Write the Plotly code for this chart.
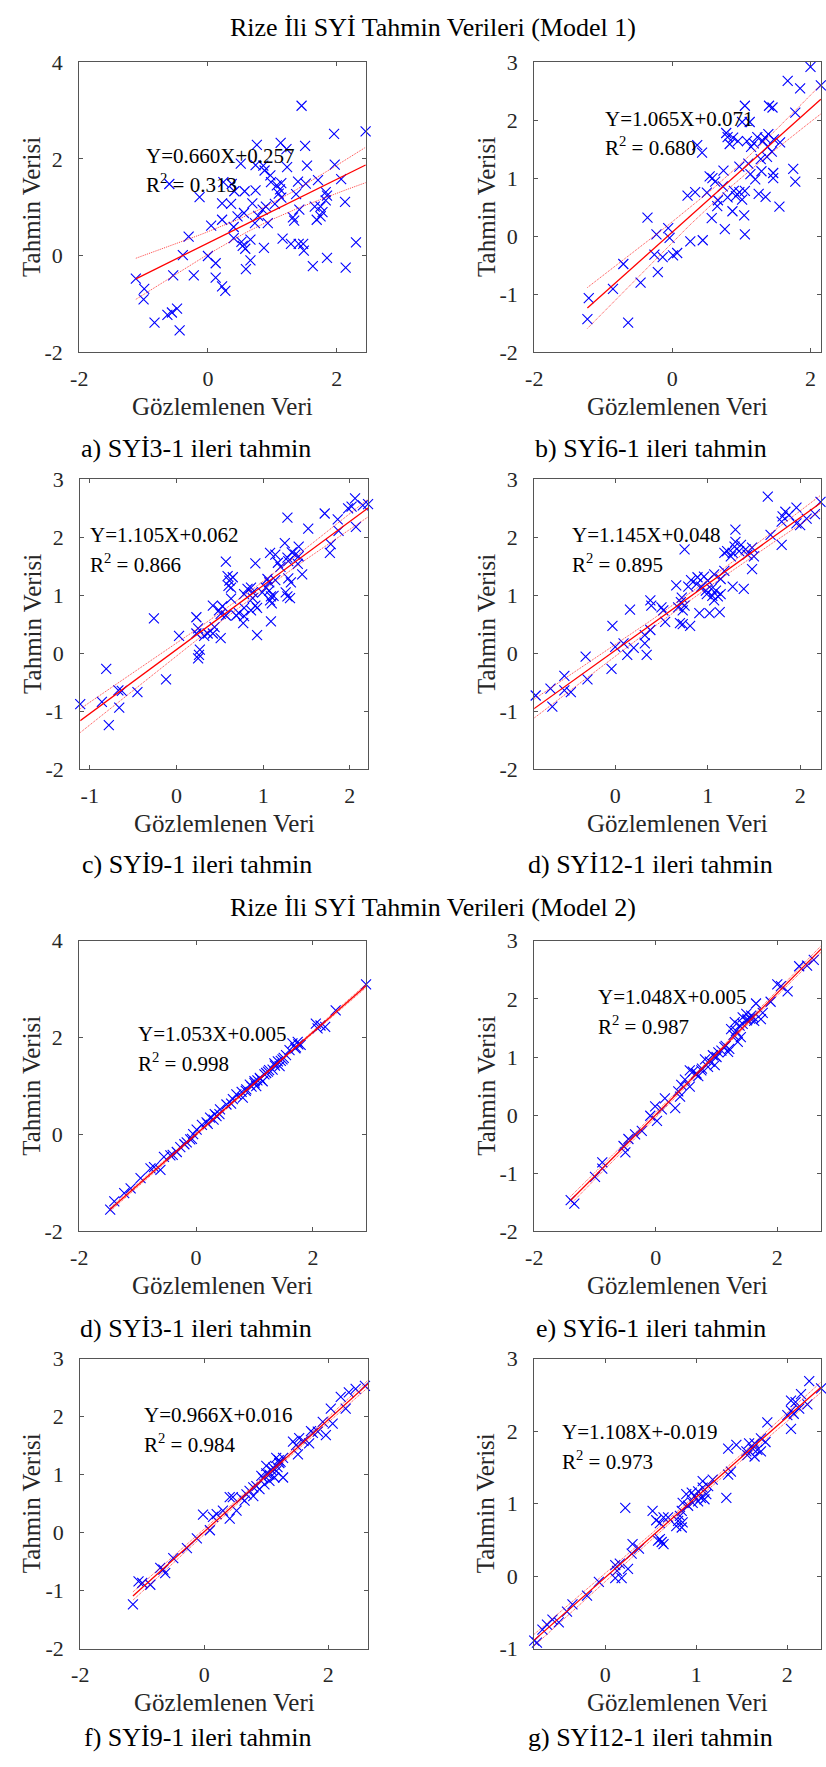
import numpy as np
import plotly.graph_objects as go

# ------------------------------------------------------------------------
# values read off the reference (observed = Gözlemlenen, predicted = Tahmin)

# Model 1 - a) SYİ3-1
a_obs = [1.455, 2.45, 1.96, 0.76, 1.13, 1.51, 1.22, 1.97, 0.51, 0.74, 0.86, 1.23, 1.54, 0.88, 0.97,
         2.07, 1.71, 0.98, -0.60, 0.24, 0.37, 1.14, 1.40, 1.52, 1.07, 0.41, 0.57, 0.74, 1.12, 1.10,
         -0.13, 1.37, 1.83, 1.85, 1.14, 0.22, 0.36, 0.69, 2.13, 1.83, 1.04, 0.90, 1.75, 1.66, 0.85,
         1.42, 1.78, 0.56, 0.46, 0.78, 0.22, 1.32, 1.69, 1.34, 1.75, 0.73, 0.93, 0.05, 0.40, -0.30,
         0.40, 0.66, 0.52, 1.16, 2.30, 1.29, 1.41, 1.48, 0.54, 0.87, 0.58, 1.49, -0.39, 0.00, 1.85,
         0.66, 0.12, 1.63, 0.59, 2.14, -0.54, -0.22, 0.12, -1.12, 0.22, 0.27, -0.99, -1.00, -0.48,
         -0.56, -0.63, -0.83, -0.44]
a_pred = [3.10, 2.57, 2.52, 2.29, 2.33, 2.27, 2.20, 1.88, 1.90, 1.87, 1.86, 1.83, 1.86, 1.76, 1.66,
          1.58, 1.56, 1.52, 1.48, 1.52, 1.48, 1.50, 1.53, 1.49, 1.45, 1.33, 1.33, 1.35, 1.37, 1.28,
          1.21, 1.27, 1.31, 1.24, 1.20, 1.08, 1.07, 1.08, 1.11, 1.14, 1.07, 1.01, 1.01, 1.01, 0.95,
          0.95, 0.90, 0.88, 0.81, 0.82, 0.74, 0.79, 0.74, 0.72, 0.81, 0.67, 0.67, 0.62, 0.59, 0.39,
          0.36, 0.33, 0.28, 0.35, 0.27, 0.24, 0.24, 0.24, 0.20, 0.16, 0.14, 0.10, 0.01, -0.01, -0.05,
          -0.10, -0.16, -0.22, -0.28, -0.25, -0.41, -0.41, -0.46, -0.48, -0.64, -0.73, -0.69, -0.91, -1.10,
          -1.18, -1.23, -1.39, -1.55]

# Model 1 - b) SYİ6-1
b_obs = [2.00, 2.15, 1.67, 1.85, 1.05, 1.40, 1.45, 1.78, 1.01, 1.12, 0.78, 0.80, 0.88, 0.95, 0.83,
         1.08, 1.18, 1.23, 1.34, 1.39, 1.31, 1.47, 1.56, 0.36, 0.43, 1.14, 1.38, 1.44, 1.37, 1.28,
         1.10, 0.97, 1.75, 0.74, 1.29, 1.46, 1.13, 1.20, 0.54, 0.58, 1.46, 1.78, 0.62, 0.73, 0.50,
         0.33, 0.22, 0.89, 0.97, 1.05, 0.92, 1.01, 0.80, 1.25, 1.35, 0.66, 0.65, 1.55, 0.87, 1.04,
         0.57, -0.36, 0.76, -0.23, -0.06, -0.04, 1.05, 0.26, 0.44, -0.26, -0.14, 0.01, 0.07, -0.71,
         -0.21, -0.46, -0.86, -1.21, -1.23, -0.64]
b_pred = [2.92, 2.60, 2.68, 2.55, 2.25, 2.25, 2.22, 2.13, 1.97, 1.97, 1.78, 1.71, 1.70, 1.64, 1.59,
          1.64, 1.60, 1.71, 1.70, 1.76, 1.64, 1.67, 1.62, 1.57, 1.44, 1.54, 1.54, 1.46, 1.37, 1.33,
          1.25, 1.20, 1.16, 1.13, 1.12, 1.09, 1.07, 0.98, 1.03, 1.00, 1.00, 0.94, 0.94, 0.86, 0.75,
          0.76, 0.70, 0.78, 0.76, 0.78, 0.69, 0.63, 0.67, 0.73, 0.68, 0.62, 0.52, 0.51, 0.43, 0.36,
          0.31, 0.32, 0.12, 0.03, 0.14, -0.03, 0.03, -0.09, -0.07, -0.32, -0.36, -0.33, -0.29, -0.48,
          -0.62, -0.80, -0.91, -1.07, -1.43, -1.49]

# Model 1 - c) SYİ9-1
c_obs = [2.06, 1.98, 2.02, 2.15, 2.21, 1.71, 1.28, 1.86, 1.52, 2.07, 1.87, 1.25, 1.41, 1.78, 1.77,
         1.08, 1.14, 1.33, 1.37, 1.28, 1.41, 1.17, 1.29, 0.57, 0.91, 1.40, 1.20, 1.45, 0.59, 0.65,
         0.61, 1.05, 1.07, 1.14, 1.29, 1.32, 0.60, 0.82, 0.86, 0.63, 1.03, 0.88, 0.99, 1.07, 1.26,
         0.78, 1.12, 1.09, 1.28, 1.31, 0.88, 0.63, 1.08, 1.10, 0.91, 0.42, 0.53, 0.78, 0.93, 0.86,
         0.49, 0.72, 0.51, 0.57, 0.69, 0.78, 0.23, -0.26, 0.77, 1.09, 0.44, 0.25, 0.23, 0.36, 0.42,
         0.32, 0.93, 0.03, 0.51, 0.27, 0.26, 0.25, -0.12, -0.81, -0.67, -0.63, -0.45, -0.66, -1.11,
         -0.86, -0.78]
c_pred = [2.67, 2.50, 2.53, 2.55, 2.57, 2.41, 2.34, 2.31, 2.15, 2.18, 2.11, 1.90, 1.84, 1.88, 1.73,
          1.73, 1.70, 1.74, 1.70, 1.65, 1.67, 1.56, 1.59, 1.58, 1.55, 1.54, 1.49, 1.36, 1.33, 1.31,
          1.25, 1.28, 1.22, 1.26, 1.29, 1.22, 1.16, 1.11, 1.13, 1.13, 1.13, 1.05, 1.05, 1.08, 1.05,
          1.02, 0.99, 0.98, 0.98, 0.95, 0.95, 0.94, 0.91, 0.86, 0.82, 0.82, 0.81, 0.78, 0.78, 0.74,
          0.74, 0.69, 0.68, 0.65, 0.65, 0.64, 0.62, 0.60, 0.52, 0.55, 0.45, 0.43, 0.34, 0.34, 0.34,
          0.30, 0.31, 0.30, 0.26, 0.06, -0.03, -0.09, -0.45, -0.27, -0.64, -0.65, -0.67, -0.94, -0.88,
          -0.84, -1.24]

# Model 1 - d) SYİ12-1
d_obs = [1.65, 2.22, 1.84, 1.96, 1.81, 1.88, 2.16, 2.07, 1.96, 2.00, 1.80, 1.30, 1.68, 1.80, 0.75,
         1.30, 1.29, 1.36, 1.21, 1.27, 1.34, 1.41, 1.48, 1.43, 1.50, 1.25, 1.18, 1.48, 1.18, 1.07,
         1.14, 0.66, 1.27, 1.39, 0.82, 0.89, 0.96, 1.00, 0.88, 0.93, 0.79, 0.98, 1.04, 1.09, 0.99,
         1.05, 1.11, 1.07, 1.14, 0.38, 0.39, 0.72, 0.71, 0.75, 0.68, 0.16, 0.50, 0.52, 0.73, 0.91,
         1.02, 1.13, 0.54, 0.70, 0.73, 0.81, -0.03, 0.38, 0.32, 0.32, 0.09, 0.20, 0.00, 0.13, 0.34,
         -0.32, -0.04, -0.30, -0.55, -0.70, -0.55, -0.48, -0.86, -0.88, -0.68]
d_pred = [2.70, 2.61, 2.44, 2.51, 2.36, 2.38, 2.40, 2.32, 2.24, 2.21, 2.27, 2.13, 2.04, 1.87, 1.79,
          1.92, 1.84, 1.87, 1.76, 1.73, 1.76, 1.79, 1.82, 1.70, 1.67, 1.67, 1.73, 1.45, 1.42, 1.36,
          1.28, 1.17, 1.15, 1.11, 1.26, 1.31, 1.32, 1.25, 1.19, 1.15, 1.15, 1.08, 1.11, 1.08, 1.02,
          0.99, 0.98, 0.91, 1.02, 0.91, 0.82, 0.96, 0.88, 0.82, 0.79, 0.75, 0.79, 0.74, 0.74, 0.69,
          0.69, 0.71, 0.54, 0.52, 0.50, 0.47, 0.47, 0.40, 0.31, 0.17, 0.17, 0.09, 0.11, -0.03, -0.03,
          -0.06, -0.27, -0.45, -0.39, -0.61, -0.64, -0.67, -0.73, -0.92, -0.92]

# Model 2 - d) SYİ3-1
e1_obs = [2.91, 2.39, 2.05, 2.13, 2.21, 2.08, 1.65, 1.74, 1.79, 1.71, 1.60, 1.54, 1.48, 1.40, 1.34,
          1.43, 1.31, 1.23, 1.17, 1.09, 1.14, 1.00, 0.92, 1.03, 0.86, 0.78, 0.69, 0.80, 0.63, 0.52,
          0.41, 0.32, 0.24, 0.18, 0.10, 0.01, -0.05, -0.07, -0.16, -0.27, -0.33, -0.44, -0.55, -0.61,
          -0.72, -0.78, -0.95, -1.12, -1.23, -1.40, -1.47, 1.00, 1.05, 1.20, 1.25, 1.35, 0.95, 0.85,
          0.40, 0.35, 0.20, -0.20, -0.40, 1.70, 1.75, 1.45, 1.50, 1.10, 0.60, 0.30, -0.10]
e1_pred = [3.10, 2.56, 2.29, 2.25, 2.22, 2.19, 1.88, 1.91, 1.85, 1.80, 1.74, 1.64, 1.55, 1.51, 1.47,
           1.41, 1.34, 1.30, 1.24, 1.17, 1.10, 1.10, 1.03, 1.00, 0.93, 0.88, 0.83, 0.76, 0.73, 0.62,
           0.52, 0.42, 0.35, 0.25, 0.20, 0.10, 0.01, -0.09, -0.16, -0.26, -0.36, -0.43, -0.46, -0.73,
           -0.67, -0.70, -0.90, -1.11, -1.21, -1.38, -1.55, 1.06, 1.12, 1.27, 1.33, 1.42, 0.99, 0.90,
           0.42, 0.38, 0.22, -0.20, -0.42, 1.78, 1.86, 1.52, 1.58, 1.15, 0.64, 0.31, -0.10]

# Model 2 - e) SYİ6-1
e_obs = [2.73, 2.60, 2.36, 2.49, 2.00, 2.06, 2.17, 1.89, 1.65, 1.76, 1.73, 1.62, 1.49, 1.43, 1.51,
         1.57, 1.30, 1.24, 1.32, 1.38, 1.43, 1.40, 1.35, 1.21, 1.13, 1.08, 1.19, 1.00, 0.94, 0.89,
         0.97, 0.86, 0.81, 0.75, 0.67, 0.61, 0.56, 0.70, 0.48, 0.42, 0.56, 0.37, 0.40, 0.32, 0.15,
         0.10, -0.01, -0.09, 0.02, -0.23, -0.34, -0.45, -0.53, -0.50, -0.88, -0.88, -1.00, -1.40,
         -1.34, 1.50, 1.55, 1.28, 0.76, 0.66, 1.60, 1.03, 1.15]
e_pred = [2.92, 2.67, 2.56, 2.57, 2.25, 2.22, 2.13, 1.95, 1.92, 1.76, 1.65, 1.62, 1.74, 1.68, 1.65,
          1.71, 1.60, 1.48, 1.45, 1.54, 1.57, 1.34, 1.26, 1.14, 1.17, 1.11, 1.09, 1.00, 1.03, 0.92,
          0.86, 0.83, 0.96, 0.77, 0.72, 0.75, 0.77, 0.67, 0.61, 0.52, 0.49, 0.41, 0.32, 0.12, 0.29,
          0.10, 0.15, -0.01, -0.10, -0.27, -0.33, -0.41, -0.53, -0.64, -0.81, -0.92, -1.06, -1.46,
          -1.52, 1.63, 1.66, 1.38, 0.80, 0.70, 1.69, 1.08, 1.19]

# Model 2 - f) SYİ9-1
f_obs = [2.65, 2.59, 2.44, 2.33, 2.20, 2.28, 2.04, 2.07, 1.91, 1.96, 1.83, 1.72, 1.69, 1.53, 1.43,
         1.48, 1.51, 1.27, 1.16, 1.21, 1.11, 1.00, 0.92, 1.05, 1.16, 1.13, 1.27, 1.05, 0.97, 0.89,
         0.79, 0.73, 0.68, 0.79, 0.65, 0.46, 0.41, 0.52, 0.41, 0.30, 0.20, 0.14, -0.02, 0.09, -0.12,
         -0.28, -0.50, -0.66, -0.71, -0.63, -0.87, -1.06, -1.00, -1.15, 1.20, 1.23, 1.08, 0.95, 0.84,
         1.60, 1.75, 0.60, 1.00, 1.18]
f_pred = [2.66, 2.53, 2.48, 2.42, 2.34, 2.14, 2.14, 1.88, 1.91, 1.68, 1.74, 1.75, 1.54, 1.63, 1.57,
          1.51, 1.35, 1.29, 1.29, 1.20, 1.12, 1.15, 0.98, 1.00, 1.06, 0.95, 0.95, 0.89, 0.83, 0.75,
          0.78, 0.72, 0.66, 0.63, 0.55, 0.61, 0.61, 0.38, 0.24, 0.38, 0.32, 0.27, 0.31, 0.04, -0.10,
          -0.27, -0.44, -0.64, -0.61, -0.70, -0.90, -0.84, -0.87, -1.24, 1.25, 1.22, 1.08, 0.94, 0.80,
          1.58, 1.72, 0.60, 1.02, 1.13]

# Model 2 - g) SYİ12-1
g_obs = [2.24, 2.37, 2.15, 2.04, 2.09, 2.22, 2.04, 2.13, 2.00, 2.07, 2.04, 1.78, 1.71, 1.76, 1.35,
         1.44, 1.58, 1.64, 1.62, 1.55, 1.67, 1.56, 1.64, 1.71, 1.38, 1.35, 1.33, 1.18, 1.07, 1.13,
         1.07, 1.02, 0.95, 0.89, 0.98, 1.05, 1.09, 1.11, 0.96, 1.02, 0.91, 0.85, 0.84, 0.82, 0.80,
         0.85, 0.78, 0.84, 0.22, 0.52, 0.56, 0.60, 0.64, 0.69, 0.60, 0.62, 0.58, 0.64, 0.30, 0.37,
         0.29, 0.11, 0.13, 0.25, 0.16, 0.11, 0.18, -0.07, -0.20, -0.36, -0.42, -0.51, -0.58, -0.64,
         -0.69, -0.78, -0.75]
g_pred = [2.69, 2.59, 2.51, 2.42, 2.40, 2.37, 2.28, 2.31, 2.22, 2.24, 2.03, 2.12, 1.90, 1.85, 1.76,
          1.81, 1.83, 1.83, 1.76, 1.72, 1.74, 1.67, 1.65, 1.72, 1.44, 1.40, 1.08, 1.33, 1.31, 1.24,
          1.22, 1.17, 1.15, 1.13, 1.10, 1.08, 1.06, 1.13, 1.01, 1.03, 0.97, 1.01, 0.90, 0.83, 0.76,
          0.74, 0.69, 0.67, 0.94, 0.90, 0.77, 0.73, 0.81, 0.81, 0.51, 0.47, 0.49, 0.44, 0.44, 0.38,
          0.31, 0.15, 0.07, 0.10, 0.17, -0.03, -0.03, -0.08, -0.27, -0.39, -0.49, -0.64, -0.60, -0.67,
          -0.74, -0.89, -0.92]

slopes = [0.660, 1.065, 1.105, 1.145, 1.053, 1.048, 0.966, 1.108]
intercepts = [0.257, 0.071, 0.062, 0.048, 0.005, 0.005, 0.016, -0.019]
equations = ["Y=0.660X+0.257", "Y=1.065X+0.071", "Y=1.105X+0.062", "Y=1.145X+0.048",
             "Y=1.053X+0.005", "Y=1.048X+0.005", "Y=0.966X+0.016", "Y=1.108X+-0.019"]
r_squared = ["0.313", "0.680", "0.866", "0.895", "0.998", "0.987", "0.984", "0.973"]
captions = ["a) SYİ3-1 ileri tahmin", "b) SYİ6-1 ileri tahmin", "c) SYİ9-1 ileri tahmin",
            "d) SYİ12-1 ileri tahmin", "d) SYİ3-1 ileri tahmin", "e) SYİ6-1 ileri tahmin",
            "f) SYİ9-1 ileri tahmin", "g) SYİ12-1 ileri tahmin"]
titles = ["Rize İli SYİ Tahmin Verileri (Model 1)", "Rize İli SYİ Tahmin Verileri (Model 2)"]
x_label = "Gözlemlenen Veri"
y_label = "Tahmin Verisi"

ticks_m2_4 = [-2, 0, 2, 4]
ticks_m2_3 = [-2, -1, 0, 1, 2, 3]
ticks_m1_3 = [-1, 0, 1, 2, 3]
xticks_m2_2 = [-2, 0, 2]
xticks_m1_2 = [-1, 0, 1, 2]
xticks_0_2 = [0, 1, 2]

T95 = 1.98  # t value used for the 95% band

# ------------------------------------------------------------------------
# layout of each panel: pixel box, ranges, ticks, text position (data units)
W, H = 826, 1767
FONT = "Liberation Serif"
panels = [
    dict(obs=a_obs, pred=a_pred, box=(71, 361, 51, 345), xr=[-2, 2.457], yr=[-2, 4],
         xt=xticks_m2_2, yt=ticks_m2_4, txt=(-1.0, 2.07, 1.49)),
    dict(obs=b_obs, pred=b_pred, box=(531, 821, 51, 345), xr=[-2, 2.153], yr=[-2, 3],
         xt=xticks_m2_2, yt=ticks_m2_3, txt=(-1.0, 2.03, 1.54)),
    dict(obs=c_obs, pred=c_pred, box=(72, 363, 474, 768), xr=[-1.11, 2.21], yr=[-2, 3],
         xt=xticks_m1_2, yt=ticks_m2_3, txt=(-1.02, 2.04, 1.55)),
    dict(obs=d_obs, pred=d_pred, box=(531, 821, 474, 768), xr=[-0.876, 2.226], yr=[-2, 3],
         xt=xticks_0_2, yt=ticks_m2_3, txt=(-0.49, 2.04, 1.55)),
    dict(obs=e1_obs, pred=e1_pred, box=(71, 361, 942, 1237), xr=[-2, 2.91], yr=[-2, 4],
         xt=xticks_m2_2, yt=ticks_m2_4, txt=(-1.02, 2.08, 1.49)),
    dict(obs=e_obs, pred=e_pred, box=(531, 821, 942, 1237), xr=[-2, 2.72], yr=[-2, 3],
         xt=xticks_m2_2, yt=ticks_m2_3, txt=(-0.99, 2.03, 1.54)),
    dict(obs=f_obs, pred=f_pred, box=(72, 363, 1366, 1660), xr=[-2, 2.64], yr=[-2, 3],
         xt=xticks_m2_2, yt=ticks_m2_3, txt=(-1.01, 2.03, 1.54)),
    dict(obs=g_obs, pred=g_pred, box=(531, 821, 1366, 1660), xr=[-0.78, 2.37], yr=[-1, 3],
         xt=xticks_0_2, yt=ticks_m1_3, txt=(-0.50, 1.99, 1.60)),
]
caption_gap = [98, 98, 97, 97, 98, 98, 90, 90]
title_y = [16, 908]


def px(x, y):
    return x / W, 1 - y / H


fig = go.Figure()
annotations = []
layout_axes = {}

for i, p in enumerate(panels):
    n = i + 1
    xa = "x" if n == 1 else "x%d" % n
    ya = "y" if n == 1 else "y%d" % n
    obs = np.array(p["obs"])
    pred = np.array(p["pred"])

    fig.add_trace(go.Scatter(x=obs, y=pred, mode="markers", xaxis=xa, yaxis=ya, cliponaxis=False,
                             marker=dict(symbol="x-thin", size=10, color="#0000ff",
                                         line=dict(color="#0000ff", width=1.1)),
                             showlegend=False, hoverinfo="skip"))

    # fitted line and 95% confidence band of the fit
    xs = np.linspace(obs.min(), obs.max(), 80)
    fit = slopes[i] * xs + intercepts[i]
    res = pred - (slopes[i] * obs + intercepts[i])
    s = np.sqrt(np.sum(res ** 2) / (len(obs) - 2))
    sxx = np.sum((obs - obs.mean()) ** 2)
    hw = T95 * s * np.sqrt(1.0 / len(obs) + (xs - obs.mean()) ** 2 / sxx)
    for band in (fit + hw, fit - hw):
        fig.add_trace(go.Scatter(x=xs, y=band, mode="lines", xaxis=xa, yaxis=ya,
                                 line=dict(color="rgba(255,0,0,0.75)", width=1, dash="1px,1px"),
                                 showlegend=False, hoverinfo="skip"))
    fig.add_trace(go.Scatter(x=xs, y=fit, mode="lines", xaxis=xa, yaxis=ya,
                             line=dict(color="#ff0000", width=1.3),
                             showlegend=False, hoverinfo="skip"))

    x0, x1, y0, y1 = p["box"]
    common = dict(showline=True, linecolor="#555555", linewidth=1, mirror="ticks",
                  ticks="inside", ticklen=4, tickcolor="#555555", showgrid=False,
                  zeroline=False, ticklabeloverflow="allow",
                  tickfont=dict(family=FONT, size=22, color="#262626"))
    layout_axes["xaxis" if n == 1 else "xaxis%d" % n] = dict(
        domain=[x0 / W, x1 / W], range=p["xr"], anchor=ya,
        tickvals=p["xt"], ticktext=[str(v) for v in p["xt"]], ticklabelstandoff=6, **common)
    layout_axes["yaxis" if n == 1 else "yaxis%d" % n] = dict(
        domain=[1 - y1 / H, 1 - y0 / H], range=p["yr"], anchor=xa,
        tickvals=p["yt"], ticktext=[str(v) for v in p["yt"]], ticklabelstandoff=11, **common)

    # equation and R^2 text
    tx, ty1, ty2 = p["txt"]
    annotations.append(dict(x=tx, y=ty1, xref=xa, yref=ya, text=equations[i], showarrow=False,
                            xanchor="left", yanchor="middle",
                            font=dict(family=FONT, size=21, color="black")))
    annotations.append(dict(x=tx, y=ty2, xref=xa, yref=ya,
                            text="R<sup>2</sup> = " + r_squared[i], showarrow=False,
                            xanchor="left", yanchor="middle",
                            font=dict(family=FONT, size=21, color="black")))

    # axis titles and caption
    cx = (x0 + x1) / 2
    ax, ay = px(x0 - 49, (y0 + y1) / 2)
    annotations.append(dict(x=ax, y=ay, xref="paper", yref="paper", text=y_label,
                            textangle=-90, showarrow=False, xanchor="center", yanchor="middle",
                            font=dict(family=FONT, size=25, color="#262626")))
    ax, ay = px(cx, y1 + 55)
    annotations.append(dict(x=ax, y=ay, xref="paper", yref="paper", text=x_label,
                            showarrow=False, xanchor="center", yanchor="middle",
                            font=dict(family=FONT, size=25, color="#262626")))
    ax, ay = px(cx - 27, y1 + caption_gap[i])
    annotations.append(dict(x=ax, y=ay, xref="paper", yref="paper", text=captions[i],
                            showarrow=False, xanchor="center", yanchor="middle",
                            font=dict(family=FONT, size=26, color="black")))

for t, ty in zip(titles, title_y):
    ax, ay = px(429, ty)
    annotations.append(dict(x=ax, y=ay, xref="paper", yref="paper", text=t, showarrow=False,
                            xanchor="center", yanchor="middle",
                            font=dict(family=FONT, size=26, color="black")))

fig.update_layout(width=W, height=H, margin=dict(l=0, r=0, t=0, b=0),
                  paper_bgcolor="white", plot_bgcolor="white",
                  annotations=annotations, **layout_axes)

# page body margin off so the figure fills the window exactly
fig.write_html("out.html", config={"displayModeBar": False},
               post_script="document.body.style.margin='0';")
